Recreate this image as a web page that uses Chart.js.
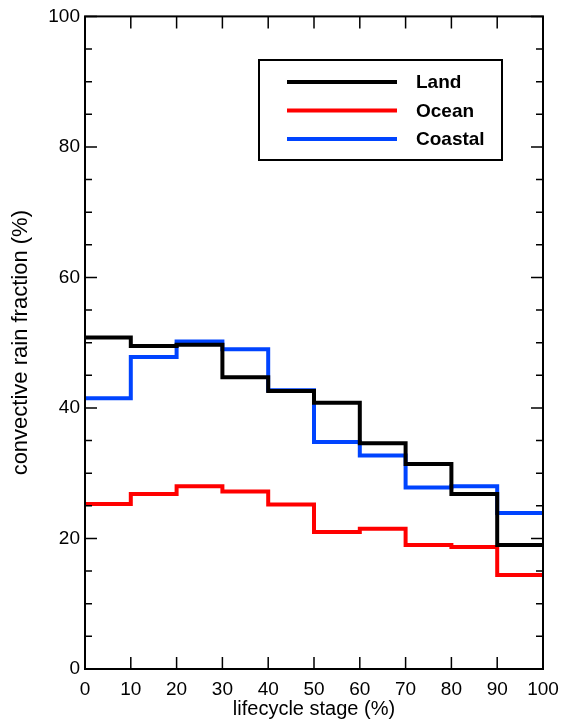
<!DOCTYPE html>
<html>
<head>
<meta charset="utf-8">
<script src="https://cdn.jsdelivr.net/npm/chart.js@4"></script>
<style>
  html, body { margin: 0; padding: 0; background: #fff; }
  #wrap { width: 574px; height: 721px; }
</style>
</head>
<body>
<div id="wrap"><canvas id="rainChart" width="574" height="721"></canvas></div>
<script>
// bin edges of the lifecycle stage (%)
const stageEdges = [0, 10, 20, 30, 40, 50, 60, 70, 80, 90, 100];
// one value per 10% bin
const landValues    = [50.8, 49.5, 49.7, 44.7, 42.6, 40.8, 34.6, 31.4, 26.8, 19.0];
const oceanValues   = [25.3, 26.8, 28.0, 27.2, 25.2, 21.0, 21.5, 19.0, 18.7, 14.4];
const coastalValues = [41.5, 47.8, 50.2, 49.0, 42.7, 34.8, 32.7, 27.8, 28.0, 23.9];
const seriesLabels = ['Land', 'Ocean', 'Coastal'];
const yTickStep = 20;
const xTickStep = 10;

// step data: each bin value starts at its left edge, last value repeated at 100
function toSteps(values) {
    const pts = values.map((v, i) => ({ x: stageEdges[i], y: v }));
    pts.push({ x: stageEdges[stageEdges.length - 1], y: values[values.length - 1] });
    return pts;
}

const FONT = '"Liberation Sans", Arial, Helvetica, sans-serif';

// frame + inward ticks like the original IDL-style plot
const framePlugin = {
    id: 'frame',
    afterDatasetsDraw(chart) {
        const { ctx, chartArea: a, scales } = chart;
        ctx.save();
        ctx.strokeStyle = '#000';
        ctx.lineWidth = 2;
        ctx.strokeRect(a.left, a.top, a.right - a.left, a.bottom - a.top);
        ctx.lineWidth = 1.5;
        ctx.beginPath();
        for (let v = 0; v <= 100; v += 5) {
            const y = scales.y.getPixelForValue(v);
            const len = v % yTickStep === 0 ? 12 : 7;
            ctx.moveTo(a.left, y); ctx.lineTo(a.left + len, y);
            ctx.moveTo(a.right, y); ctx.lineTo(a.right - len, y);
        }
        for (let v = 0; v <= 100; v += xTickStep) {
            const x = scales.x.getPixelForValue(v);
            ctx.moveTo(x, a.bottom); ctx.lineTo(x, a.bottom - 12);
            ctx.moveTo(x, a.top); ctx.lineTo(x, a.top + 12);
        }
        ctx.stroke();
        ctx.restore();
    }
};

// boxed legend inside the plot, top right
const boxLegendPlugin = {
    id: 'boxLegend',
    afterDraw(chart) {
        const { ctx } = chart;
        const bx = 259, by = 60, bw = 243, bh = 100;
        ctx.save();
        ctx.fillStyle = '#fff';
        ctx.fillRect(bx, by, bw, bh);
        ctx.strokeStyle = '#000';
        ctx.lineWidth = 2;
        ctx.strokeRect(bx, by, bw, bh);
        ctx.font = 'bold 19px ' + FONT;
        ctx.textBaseline = 'middle';
        chart.data.datasets.forEach((ds, i) => {
            const y = by + 22 + i * 28.5;
            ctx.strokeStyle = ds.borderColor;
            ctx.lineWidth = 4;
            ctx.beginPath();
            ctx.moveTo(287, y); ctx.lineTo(397, y);
            ctx.stroke();
            ctx.fillStyle = '#000';
            ctx.fillText(ds.label, 416, y + 1);
        });
        ctx.restore();
    }
};

const colors = ['#000000', '#ff0000', '#0044ff'];
const allValues = [landValues, oceanValues, coastalValues];

new Chart(document.getElementById('rainChart'), {
    type: 'line',
    data: {
        datasets: seriesLabels.map((label, i) => ({
            label: label,
            data: toSteps(allValues[i]),
            borderColor: colors[i],
            borderWidth: 4,
            stepped: 'before',
            pointRadius: 0,
            fill: false
        }))
    },
    options: {
        responsive: false,
        animation: false,
        layout: { padding: { top: 14, right: 31, left: 0, bottom: 0 } },
        plugins: {
            legend: { display: false },
            tooltip: { enabled: false }
        },
        scales: {
            x: {
                type: 'linear',
                min: 0,
                max: 100,
                ticks: { stepSize: xTickStep, color: '#000', padding: 9, font: { family: FONT, size: 19 }, maxRotation: 0 },
                grid: { display: false, drawTicks: false },
                border: { display: false },
                title: { display: true, text: 'lifecycle stage (%)', color: '#000', padding: { top: 0, bottom: 0 }, font: { family: FONT, size: 20 } },
                afterFit(scale) { scale.height = 52; }
            },
            y: {
                min: 0,
                max: 100,
                ticks: { stepSize: yTickStep, color: '#000', padding: 5, font: { family: FONT, size: 19 } },
                grid: { display: false, drawTicks: false },
                border: { display: false },
                title: { display: true, text: 'convective rain fraction (%)', color: '#000', padding: { top: 8, bottom: 0 }, font: { family: FONT, size: 22 } },
                afterFit(scale) { scale.width = 85; }
            }
        }
    },
    plugins: [framePlugin, boxLegendPlugin]
});
</script>
</body>
</html>
